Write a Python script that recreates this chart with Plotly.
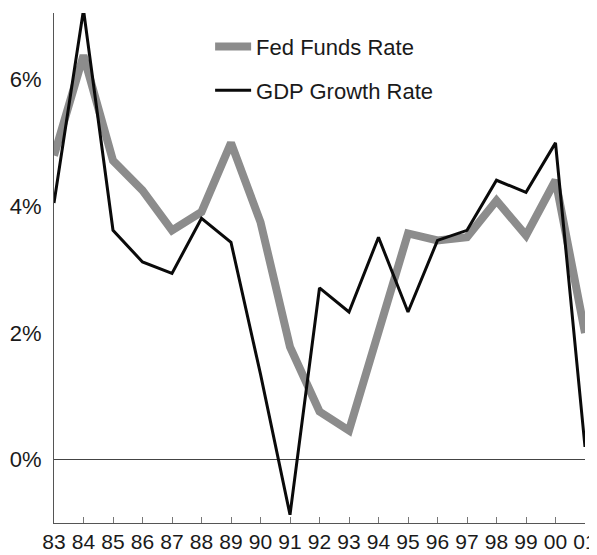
import plotly.graph_objects as go

years = list(range(1983, 2002))
tick_labels = ["83", "84", "85", "86", "87", "88", "89", "90", "91", "92",
               "93", "94", "95", "96", "97", "98", "99", "00", "01"]
fed_funds = [4.80, 6.38, 4.72, 4.25, 3.62, 3.91, 5.00, 3.75, 1.78, 0.76,
             0.46, 2.03, 3.57, 3.46, 3.51, 4.09, 3.54, 4.41, 2.00]
gdp_growth = [4.05, 7.10, 3.62, 3.12, 2.94, 3.81, 3.43, 1.35, -0.87, 2.71,
              2.33, 3.51, 2.33, 3.46, 3.62, 4.41, 4.22, 5.00, 0.20]
y_ticks = [0, 2, 4, 6]
y_tick_labels = ["0%", "2%", "4%", "6%"]

FONT = "Liberation Sans, Arial, Helvetica, sans-serif"

fig = go.Figure()
fig.add_trace(go.Scatter(
    x=years, y=fed_funds, mode="lines", name="Fed Funds Rate",
    line=dict(color="#8c8c8c", width=8), legendgroup="a"))
fig.add_trace(go.Scatter(
    x=years, y=gdp_growth, mode="lines", name="GDP Growth Rate",
    line=dict(color="#0a0a0a", width=3), legendgroup="b"))

# the page places the figure 8px from the top-left corner of the window
fig.update_layout(
    width=597, height=547,
    margin=dict(l=46, r=20, t=5, b=32, autoexpand=False),
    paper_bgcolor="white", plot_bgcolor="white",
    font=dict(family=FONT, size=22, color="#1a1a1a"),
    showlegend=True,
    legend=dict(x=0.294, y=0.975, xanchor="left", yanchor="top",
                bgcolor="rgba(0,0,0,0)", font=dict(size=22, family=FONT),
                tracegroupgap=12, itemwidth=36),
    xaxis=dict(range=[1983, 2001], tickmode="array", tickvals=years,
               ticktext=tick_labels, showgrid=False, zeroline=False,
               showline=True, linecolor="#555", linewidth=1,
               ticks="inside", ticklen=6, tickcolor="#777", tickwidth=1,
               tickfont=dict(size=21),
               automargin=False, ticklabeloverflow="allow"),
    yaxis=dict(range=[-1.0, 7.05], tickmode="array", tickvals=y_ticks,
               ticktext=y_tick_labels, showgrid=False,
               zeroline=True, zerolinecolor="#444", zerolinewidth=1,
               showline=True, linecolor="#555", linewidth=1,
               ticks="", ticklabelstandoff=7, automargin=False,
               ticklabeloverflow="allow"),
)

fig.write_html("out.html")
